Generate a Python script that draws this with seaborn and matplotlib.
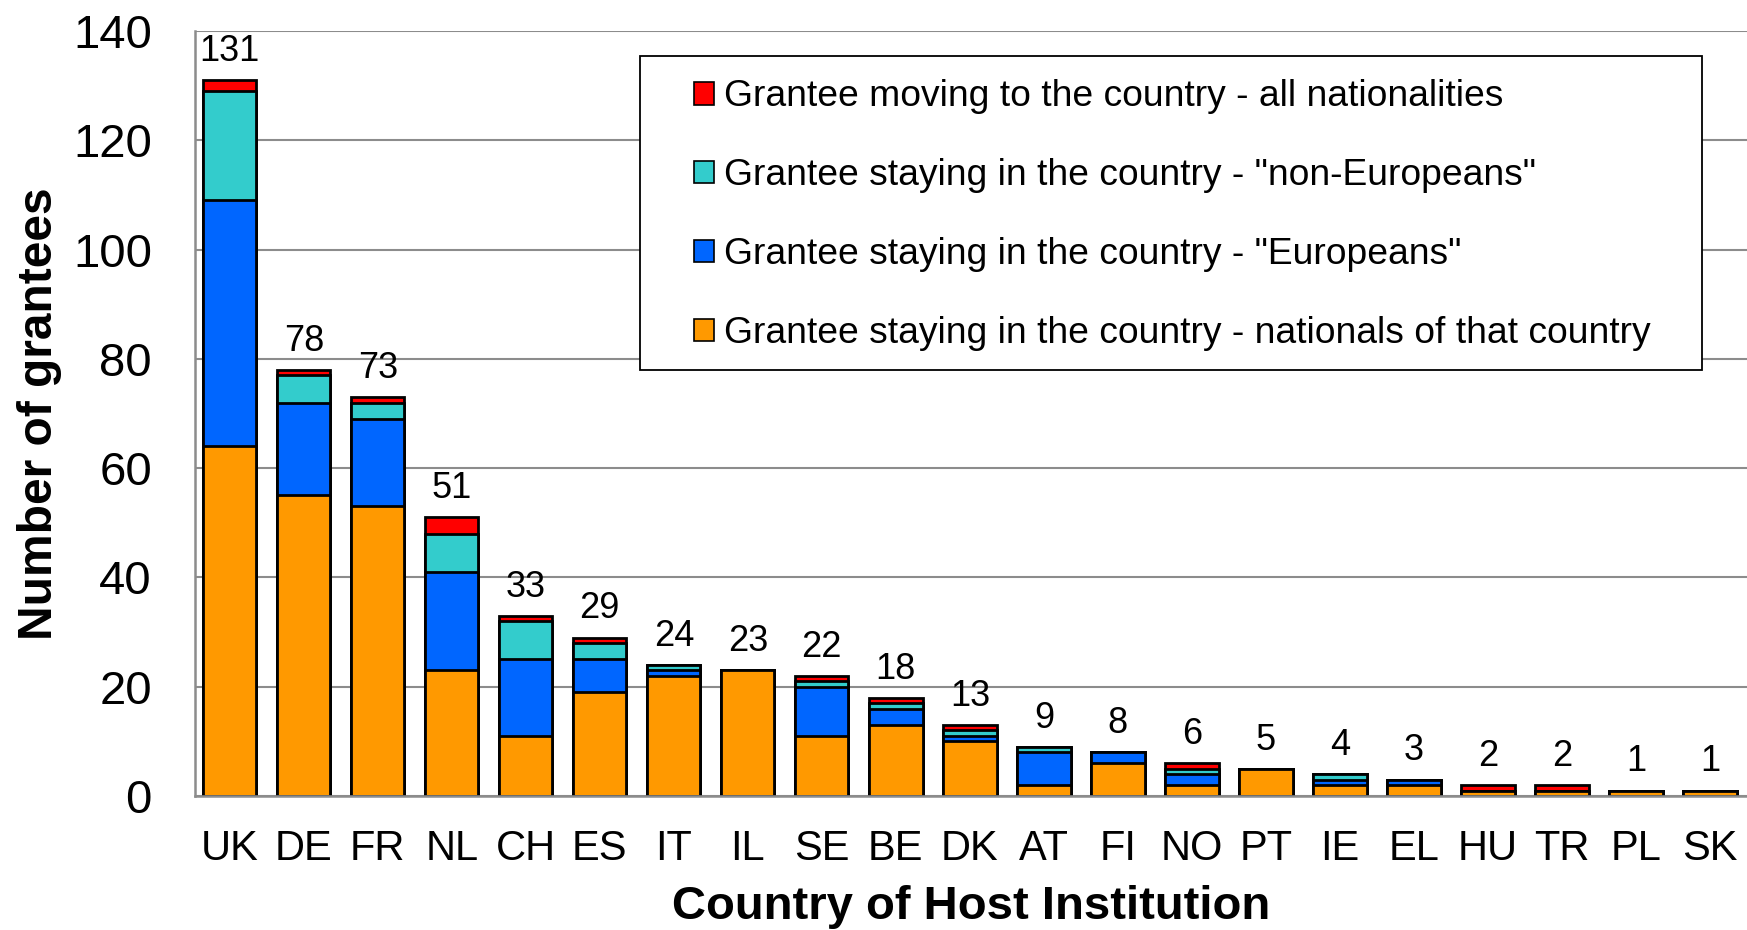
import matplotlib
matplotlib.use("Agg")
import matplotlib.pyplot as plt
import seaborn as sns
import numpy as np
import pandas as pd

countries = ["UK", "DE", "FR", "NL", "CH", "ES", "IT", "IL", "SE", "BE", "DK",
             "AT", "FI", "NO", "PT", "IE", "EL", "HU", "TR", "PL", "SK"]
nationals = [64, 55, 53, 23, 11, 19, 22, 23, 11, 13, 10, 2, 6, 2, 5, 2, 2, 1, 1, 1, 1]
europeans = [45, 17, 16, 18, 14, 6, 1, 0, 9, 3, 1, 6, 2, 2, 0, 1, 1, 0, 0, 0, 0]
non_europeans = [20, 5, 3, 7, 7, 3, 1, 0, 1, 1, 1, 1, 0, 1, 0, 1, 0, 0, 0, 0, 0]
moving = [2, 1, 1, 3, 1, 1, 0, 0, 1, 1, 1, 0, 0, 1, 0, 0, 0, 1, 1, 0, 0]

series_labels = [
    "Grantee moving to the country - all nationalities",
    'Grantee staying in the country - "non-Europeans"',
    'Grantee staying in the country - "Europeans"',
    "Grantee staying in the country - nationals of that country",
]
colors = ["#FF0000", "#33CCCC", "#0066FF", "#FF9900"]

sns.set_style("white")
plt.rcParams["font.family"] = ["Liberation Sans", "DejaVu Sans"]
plt.rcParams["text.color"] = "black"
plt.rcParams["axes.labelcolor"] = "black"
plt.rcParams["xtick.labelcolor"] = "black"
plt.rcParams["ytick.labelcolor"] = "black"

df = pd.DataFrame({"country": countries,
                   "nat": nationals, "eur": europeans,
                   "non": non_europeans, "mov": moving})
df["c1"] = df["nat"]
df["c2"] = df["c1"] + df["eur"]
df["c3"] = df["c2"] + df["non"]
df["c4"] = df["c3"] + df["mov"]

fig = plt.figure(figsize=(17.47, 9.30), dpi=100)
ax = fig.add_axes([0.1116, 0.1441, 0.8884, 0.8226])

handles = []
for col, color, lab in zip(["c4", "c3", "c2", "c1"], colors, series_labels):
    sns.barplot(data=df, x="country", y=col, color=color, width=0.72,
                edgecolor="black", linewidth=2.0, saturation=1, ax=ax,
                order=countries)
    handles.append(plt.Rectangle((0, 0), 1, 1, facecolor=color,
                                 edgecolor="black", linewidth=1.2))

for i, tot in enumerate(df["c4"]):
    ax.annotate(str(tot), (i, tot), xytext=(0, 8), textcoords="offset points",
                ha="center", va="bottom", fontsize=26)

ax.set_ylim(0, 140)
ax.set_xlim(-0.47, len(countries) - 0.5)
ax.set_yticks(np.arange(0, 141, 20))
ax.yaxis.grid(True, color="#8c8c8c", linewidth=1.5)
ax.set_axisbelow(True)
for s in ["top", "right"]:
    ax.spines[s].set_visible(False)
for s in ["left", "bottom"]:
    ax.spines[s].set_color("#8c8c8c")
    ax.spines[s].set_linewidth(1.8)

ax.set_xticks(np.arange(len(countries)))
ax.set_xticklabels(countries)
ax.set_xticks(np.arange(len(countries) - 1) + 0.5, minor=True)
ax.tick_params(axis="x", which="major", length=0, pad=24, labelsize=30)
ax.tick_params(axis="x", which="minor", length=10, width=1.5, color="#8c8c8c",
               direction="out")
ax.tick_params(axis="y", which="major", length=9, width=1.5, color="#8c8c8c",
               direction="out", labelsize=34, pad=22)

ax.set_xlabel("Country of Host Institution", fontsize=34, fontweight="bold",
              labelpad=11)
ax.set_ylabel("Number of grantees", fontsize=34.5, fontweight="bold",
              labelpad=8)

# legend frame
frame = plt.Rectangle((0.287, 0.557), 0.971 - 0.287, 0.9677 - 0.557,
                      transform=ax.transAxes, facecolor="white",
                      edgecolor="black", linewidth=1.3, zorder=5)
ax.add_patch(frame)
leg = ax.legend(handles, series_labels, loc="center left",
                bbox_to_anchor=(0.3215, 0.759), fontsize=26.8, frameon=False,
                handlelength=0.55, handleheight=0.55, handletextpad=0.25,
                labelspacing=1.18, borderpad=0, borderaxespad=0)
leg.set_zorder(6)

fig.savefig("out.png", dpi=100)
